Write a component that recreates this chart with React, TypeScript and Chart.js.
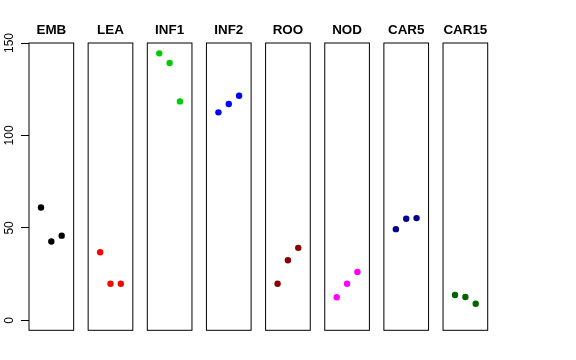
import React, { useEffect, useRef } from "react";
import { Chart, registerables } from "chart.js";
Chart.register(...registerables);

// ---- data ----
const panels = ["EMB", "LEA", "INF1", "INF2", "ROO", "NOD", "CAR5", "CAR15"];
const positions = [1, 2, 3];
const EMB = [61.0, 42.6, 45.8];
const LEA = [36.8, 19.8, 19.8];
const INF1 = [144.4, 139.2, 118.4];
const INF2 = [112.5, 117.0, 121.5];
const ROO = [19.8, 32.5, 39.2];
const NOD = [12.5, 19.8, 26.2];
const CAR5 = [49.3, 54.9, 55.3];
const CAR15 = [13.7, 12.6, 9.0];
const seriesValues = [EMB, LEA, INF1, INF2, ROO, NOD, CAR5, CAR15];
const yTicks = [0, 50, 100, 150];

// ---- styles / layout ----
const panelColors = ["#000000", "#FF0000", "#00CD00", "#0000FF", "#8B0000", "#FF00FF", "#00008B", "#006400"];
const X_LO = 0;
const X_HI = 4;
const EXT = 0.04 * (X_HI - X_LO);
const PERIOD = 5.72;
const Y_MIN = -5.4;
const Y_MAX = 150;

const panelPlugin = {
  id: "panels",
  beforeDatasetsDraw(chart: any) {
    const { ctx, chartArea, scales } = chart;
    const x = scales.x;
    const y = scales.y;
    ctx.save();
    ctx.strokeStyle = "#000";
    ctx.lineWidth = 1;
    ctx.fillStyle = "#000";
    panels.forEach((name, i) => {
      const l = x.getPixelForValue(i * PERIOD + X_LO - EXT);
      const r = x.getPixelForValue(i * PERIOD + X_HI + EXT);
      ctx.strokeRect(l, chartArea.top, r - l, chartArea.bottom - chartArea.top);
      ctx.font = "bold 13.4px 'Liberation Sans', Arial, sans-serif";
      ctx.textAlign = "center";
      ctx.textBaseline = "alphabetic";
      ctx.fillText(name, (l + r) / 2, chartArea.top - 9.3);
    });
    ctx.font = "12px 'Liberation Sans', Arial, sans-serif";
    yTicks.forEach((v) => {
      const py = y.getPixelForValue(v);
      ctx.save();
      ctx.translate(chartArea.left - 15.7, py);
      ctx.rotate(-Math.PI / 2);
      ctx.textAlign = "center";
      ctx.textBaseline = "alphabetic";
      ctx.fillText(String(v), 0, 0);
      ctx.restore();
    });
    ctx.restore();
  },
};

export default function App() {
  const ref = useRef<HTMLCanvasElement>(null);
  useEffect(() => {
    if (!ref.current) return;
    const chart = new Chart(ref.current, {
      type: "scatter",
      data: {
        datasets: seriesValues.map((vals, i) => ({
          label: panels[i],
          data: vals.map((v, j) => ({ x: i * PERIOD + positions[j], y: v })),
          backgroundColor: panelColors[i],
          borderColor: panelColors[i],
          pointRadius: 3.2,
          pointBorderWidth: 0,
        })),
      },
      options: {
        animation: false,
        responsive: false,
        layout: { padding: { top: 43, bottom: 29.7, right: 88.3, left: 0 } },
        plugins: { legend: { display: false }, tooltip: { enabled: false } },
        scales: {
          x: {
            type: "linear",
            display: false,
            min: X_LO - EXT,
            max: 7 * PERIOD + X_HI + EXT,
          },
          y: {
            type: "linear",
            min: Y_MIN,
            max: Y_MAX,
            afterBuildTicks: (scale: any) => {
              scale.ticks = yTicks.map((v) => ({ value: v }));
            },
            afterFit: (scale: any) => {
              scale.width = 29;
            },
            ticks: { display: false },
            border: { display: false },
            grid: {
              drawOnChartArea: false,
              drawTicks: true,
              tickLength: 8,
              color: "#000",
              lineWidth: 1,
            },
          },
        },
      },
      plugins: [panelPlugin],
    });
    return () => chart.destroy();
  }, []);
  return (
    <div style={{ position: "fixed", left: 0, top: 0, width: 576, height: 360, background: "#fff" }}>
      <canvas ref={ref} width={576} height={360} style={{ display: "block" }} />
    </div>
  );
}
